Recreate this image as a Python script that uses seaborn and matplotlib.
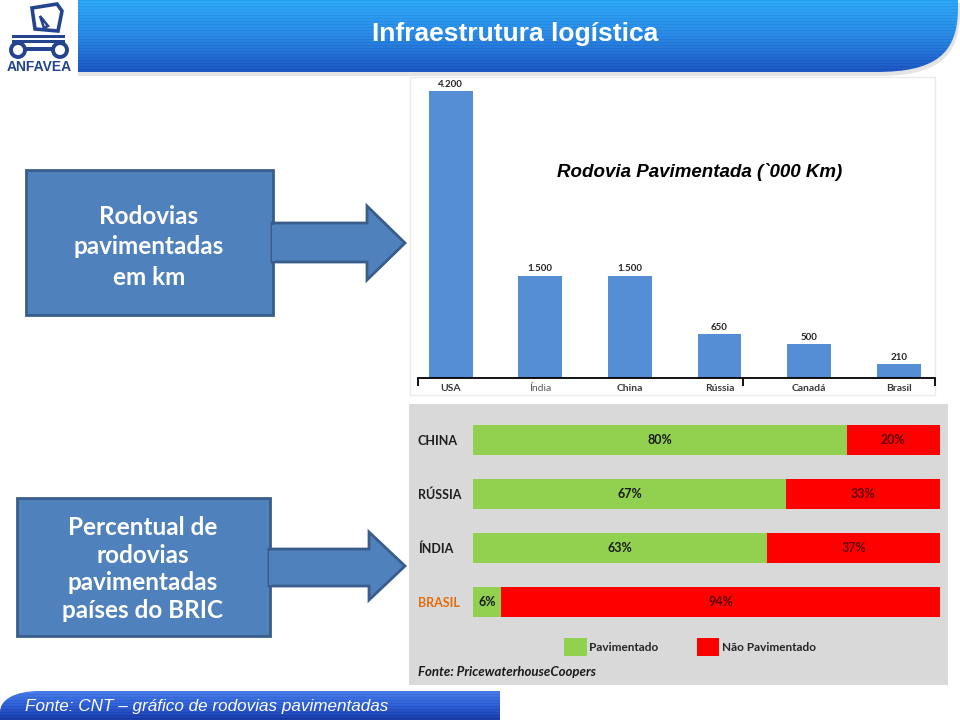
import numpy as np
import matplotlib
matplotlib.use("Agg")
import matplotlib.pyplot as plt
from matplotlib.patches import Rectangle, Polygon, PathPatch, Circle, Patch
from matplotlib.path import Path
from matplotlib.colors import to_rgb
import seaborn as sns

# ---------------- data ----------------
paises_km = ["USA", "Índia", "China", "Rússia", "Canadá", "Brasil"]
km_mil = [4200, 1500, 1500, 650, 500, 210]
km_labels = ["4.200", "1.500", "1.500", "650", "500", "210"]

paises_bric = ["CHINA", "RÚSSIA", "ÍNDIA", "BRASIL"]
pavimentado = [80, 67, 63, 6]
nao_pavimentado = [20, 33, 37, 94]

# ---------------- setup ----------------
sns.set_theme(style="white")
plt.rcParams["font.family"] = ["Liberation Sans", "DejaVu Sans"]

W, H = 960, 720
fig = plt.figure(figsize=(9.6, 7.2), dpi=100)


def rect(x0, y0, x1, y1):
    return [x0 / W, 1 - y1 / H, (x1 - x0) / W, (y1 - y0) / H]


bg = fig.add_axes([0, 0, 1, 1], zorder=0)
bg.axis("off")


def gradient(n, stops):
    ys = np.linspace(0, 1, n)
    pos = [s[0] for s in stops]
    cols = np.array([to_rgb(s[1]) for s in stops])
    out = np.stack([np.interp(ys, pos, cols[:, k]) for k in range(3)], axis=1)
    stripes = ((np.arange(n) % 3) == 0)[:, None] * 0.035
    return np.clip(out - stripes, 0, 1)[:, None, :]


M, L, C4, CL = Path.MOVETO, Path.LINETO, Path.CURVE4, Path.CLOSEPOLY

# header shadow + header
sh_verts = [(78, 3), (960, 3), (960, 12), (960, 58), (936, 76), (878, 76), (78, 76), (78, 3)]
hd_verts = [(78, 0), (958, 0), (958, 8), (958, 55), (934, 72), (876, 72), (78, 72), (78, 0)]
codes = [M, L, L, C4, C4, C4, L, CL]
bg.add_patch(PathPatch(Path(sh_verts, codes), fc="#e4e4e4", ec="none", zorder=0.5))
hpatch = PathPatch(Path(hd_verts, codes), fc="none", ec="none", zorder=1)
bg.add_patch(hpatch)
im = bg.imshow(gradient(72, [(0, "#2fa9f7"), (0.5, "#2c8ae6"), (1, "#1f58c4")]),
               extent=(78, 958, 72, 0), aspect="auto", origin="upper", zorder=1)
im.set_clip_path(hpatch)
bg.text(515, 41, "Infraestrutura logística", ha="center", va="baseline",
        fontsize=19, fontweight="bold", color="white", zorder=3)

# logo
lc = "#24448f"
bg.add_patch(Polygon([(32, 8), (57, 4), (62, 11), (58, 31), (35, 29)], closed=True,
                     fill=False, ec=lc, lw=2.6, zorder=2))
bg.add_patch(Polygon([(40, 16), (48, 26), (44, 28)], closed=True, fill=False, ec=lc, lw=1.8, zorder=2))
for yy in (35, 40):
    bg.add_patch(Rectangle((12, yy), 53, 3, fc=lc, ec="none", zorder=2))
bg.add_patch(Rectangle((25, 47), 27, 3.5, fc=lc, ec="none", zorder=2))
bg.add_patch(Circle((18, 50), 7, fill=False, ec=lc, lw=2.8, zorder=2))
bg.add_patch(Circle((60, 50), 7, fill=False, ec=lc, lw=2.8, zorder=2))
bg.text(39, 67, "ANFAVEA", ha="center", va="center", fontsize=10, fontweight="bold",
        color=lc, zorder=2)

# left boxes + arrows
box_fc, box_ec = "#4f81bd", "#385d8a"
bg.add_patch(Rectangle((26, 170), 247, 145, fc=box_fc, ec=box_ec, lw=2, zorder=2))
bg.add_patch(Polygon([(272, 223), (367, 223), (367, 206), (405, 243), (367, 280), (367, 262), (272, 262)],
                     closed=True, fc=box_fc, ec=box_ec, lw=2, zorder=2))
bg.add_patch(Rectangle((272, 224.5), 3, 36, fc=box_fc, ec="none", zorder=2.5))
bg.text(149, 247, "Rodovias\npavimentadas\nem km", ha="center", va="center", fontsize=17.5,
        fontweight="bold", color="white", family=["Lato", "DejaVu Sans"], linespacing=1.38, zorder=3)

bg.add_patch(Rectangle((17, 498), 253, 138, fc=box_fc, ec=box_ec, lw=2, zorder=2))
bg.add_patch(Polygon([(269, 549), (369, 549), (369, 532), (405, 566), (369, 600), (369, 586), (269, 586)],
                     closed=True, fc=box_fc, ec=box_ec, lw=2, zorder=2))
bg.add_patch(Rectangle((269, 550.5), 3, 34, fc=box_fc, ec="none", zorder=2.5))
bg.text(143, 569, "Percentual de\nrodovias\npavimentadas\npaíses do BRIC", ha="center", va="center",
        fontsize=17.5, fontweight="bold", color="white", family=["Lato", "DejaVu Sans"],
        linespacing=1.25, zorder=3)

# top chart frame + title + ticks
bg.add_patch(Rectangle((410, 77), 525, 318, fill=False, ec="#ebebeb", lw=1, zorder=1))
bg.text(700, 172, "Rodovia Pavimentada (`000 Km)", ha="center", va="center", fontsize=13.5,
        fontweight="bold", fontstyle="italic", color="black", zorder=3)
for tx in (417.5, 743, 934.5):
    bg.plot([tx, tx], [378, 386], color="black", lw=1.3, zorder=3, solid_capstyle="butt")

# bottom gray panel
bg.add_patch(Rectangle((409, 404), 539, 281, fc="#d9d9d9", ec="none", zorder=1))
bg.text(418, 672, "Fonte: PricewaterhouseCoopers", ha="left", va="center", fontsize=9.5,
        fontweight="bold", fontstyle="italic", color="#1a1a1a", family=["Lato", "DejaVu Sans"], zorder=3)

# footer
ft_verts = [(0, 720), (0, 712), (0, 700), (14, 691), (40, 691), (500, 691), (500, 720), (0, 720)]
ft_codes = [M, L, C4, C4, C4, L, L, CL]
fpatch = PathPatch(Path(ft_verts, ft_codes), fc="none", ec="none", zorder=1)
bg.add_patch(fpatch)
im2 = bg.imshow(gradient(29, [(0, "#4a7de9"), (0.5, "#3060d6"), (1, "#1c3eab")]),
                extent=(0, 500, 720, 691), aspect="auto", origin="upper", zorder=1)
im2.set_clip_path(fpatch)
bg.text(25, 707, "Fonte: CNT – gráfico de rodovias pavimentadas", ha="left", va="center",
        fontsize=12.3, fontstyle="italic", color="white", zorder=3)

bg.set_xlim(0, W)
bg.set_ylim(H, 0)

# ---------------- top bar chart ----------------
ax1 = fig.add_axes(rect(417.5, 87.6, 934.5, 378), zorder=2)
ax1.patch.set_alpha(0)
sns.barplot(x=paises_km, y=km_mil, color="#558ED5", width=0.49, saturation=1,
            linewidth=0, edgecolor="none", ax=ax1)
ax1.set_xlim(-0.37, 5.4)
ax1.set_ylim(0, 4250)
ax1.bar_label(ax1.containers[0], labels=km_labels, padding=1.5, fontsize=7, fontweight="bold",
              color="#262626", family=["Lato", "DejaVu Sans"])
sns.despine(ax=ax1, left=True)
ax1.spines["bottom"].set_color("black")
ax1.spines["bottom"].set_linewidth(1.3)
ax1.set_yticks([])
ax1.set_xlabel("")
ax1.set_ylabel("")
ax1.tick_params(axis="x", length=0, pad=4)
for lbl in ax1.get_xticklabels():
    lbl.set_fontfamily(["Lato", "DejaVu Sans"])
    lbl.set_fontsize(7.5)
    if lbl.get_text() == "Índia":
        lbl.set_fontweight("normal")
        lbl.set_color("#5a5a5a")
    else:
        lbl.set_fontweight("bold")
        lbl.set_color("#3a3a3a")

# ---------------- bottom stacked bar chart ----------------
ax2 = fig.add_axes(rect(473, 413, 940, 629), zorder=2)
ax2.patch.set_alpha(0)
sns.barplot(x=pavimentado, y=paises_bric, orient="h", color="#92D050", width=0.57,
            saturation=1, linewidth=0, edgecolor="none", ax=ax2)
sns.barplot(x=nao_pavimentado, y=paises_bric, orient="h", color="#FF0000", width=0.57,
            saturation=1, linewidth=0, edgecolor="none", left=pavimentado, ax=ax2)
ax2.set_xlim(0, 100)
ax2.set_ylim(3.5, -0.5)
ax2.bar_label(ax2.containers[0], labels=[f"{v}%" for v in pavimentado], label_type="center",
              fontsize=9, fontweight="bold", color="#1a1a1a", family=["Lato", "DejaVu Sans"])
ax2.bar_label(ax2.containers[1], labels=[f"{v}%" for v in nao_pavimentado], label_type="center",
              fontsize=9, fontweight="bold", color="#5c0000", family=["Lato", "DejaVu Sans"])
sns.despine(ax=ax2, left=True, bottom=True)
ax2.set_xticks([])
ax2.set_xlabel("")
ax2.set_ylabel("")
ax2.tick_params(axis="y", length=0, pad=55 * 72 / 100)
for lbl in ax2.get_yticklabels():
    lbl.set_ha("left")
    lbl.set_fontfamily(["Lato", "DejaVu Sans"])
    lbl.set_fontsize(9)
    lbl.set_fontweight("bold")
    lbl.set_color("#E46C0A" if lbl.get_text() == "BRASIL" else "#1f1f1f")

handles = [Patch(fc="#92D050", ec="none", label="Pavimentado"),
           Patch(fc="#FF0000", ec="none", label="Não Pavimentado")]
fig.legend(handles=handles, loc="center", bbox_to_anchor=(690 / W, 1 - 647 / H), ncol=2,
           frameon=False, handlelength=1.9, handleheight=1.9, handletextpad=0.25,
           columnspacing=3.2, prop={"family": ["Lato", "DejaVu Sans"], "weight": "bold", "size": 8.5})

fig.savefig("out.png", dpi=100)
